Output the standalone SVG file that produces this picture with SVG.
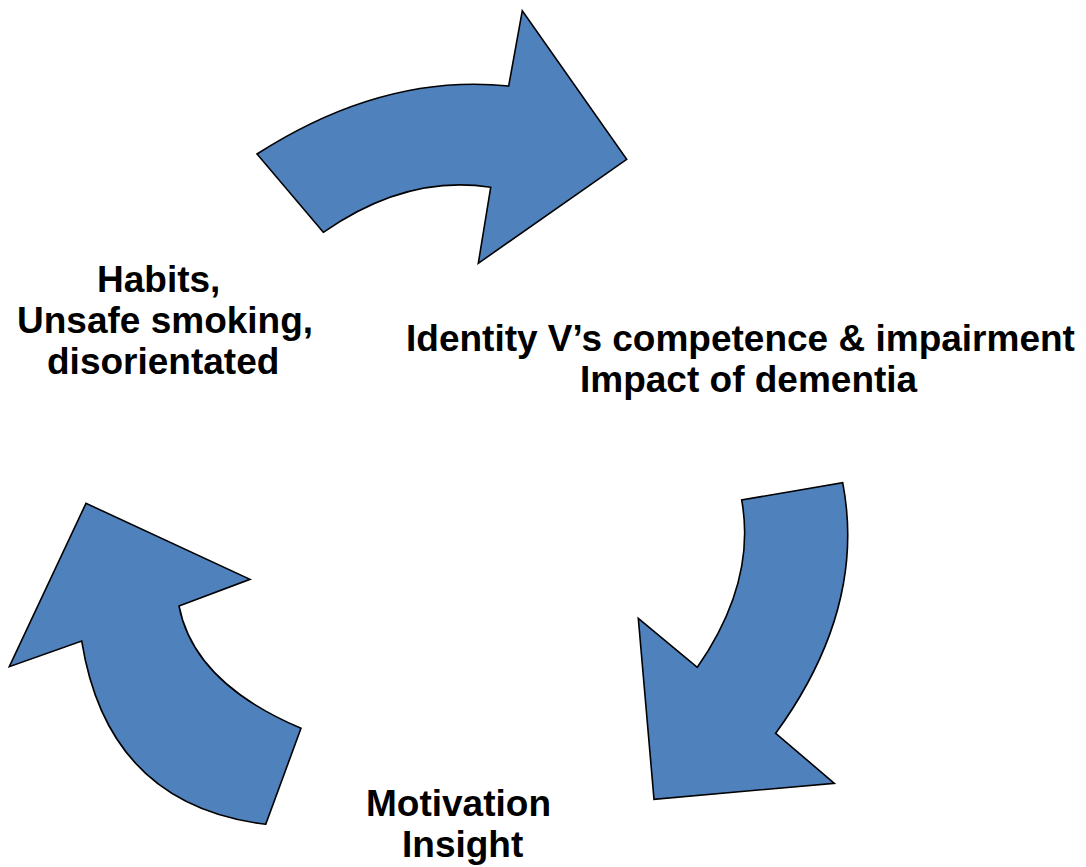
<svg xmlns="http://www.w3.org/2000/svg" width="1086" height="867" viewBox="0 0 1086 867">
<style>
.arrow{fill:#4F81BD;stroke:#000;stroke-width:1.6;stroke-linejoin:miter}
.lbl{font-family:"Liberation Sans",Arial,sans-serif;font-weight:bold;font-size:37px;fill:#000}
</style>
<rect width="1086" height="867" fill="#fff"/>
<g id="connectors">
<path id="arrow-top" class="arrow" d="M257,154 Q383,73 508.7,86 L522.3,10.7 L626.7,159.3 L478.3,263.3 L490.7,187.3 Q407,174 323.3,232.3 Z"/>
<path id="arrow-right" class="arrow" d="M842.7,482.7 Q866.8,608 775.7,733.3 L834.3,783.3 L654,799.3 L638.3,618.3 L697.3,667.3 Q756.5,582 741.7,500 Z"/>
<path id="arrow-left" class="arrow" d="M265.7,824.3 Q108,805 81.7,641 L9.3,666.7 L86,503.3 L250,579.3 L179,606 Q194,683 301,728.3 Z"/>
</g>
<g id="node-habits">
<text class="lbl" x="97" y="292">Habits,</text>
<text class="lbl" x="17" y="333">Unsafe smoking,</text>
<text class="lbl" x="47" y="374">disorientated</text>
</g>
<g id="node-identity">
<text class="lbl" x="406" y="351">Identity V’s competence &amp; impairment</text>
<text class="lbl" x="580" y="392">Impact of dementia</text>
</g>
<g id="node-motivation">
<text class="lbl" x="366" y="816">Motivation</text>
<text class="lbl" x="402" y="857">Insight</text>
</g>
</svg>
